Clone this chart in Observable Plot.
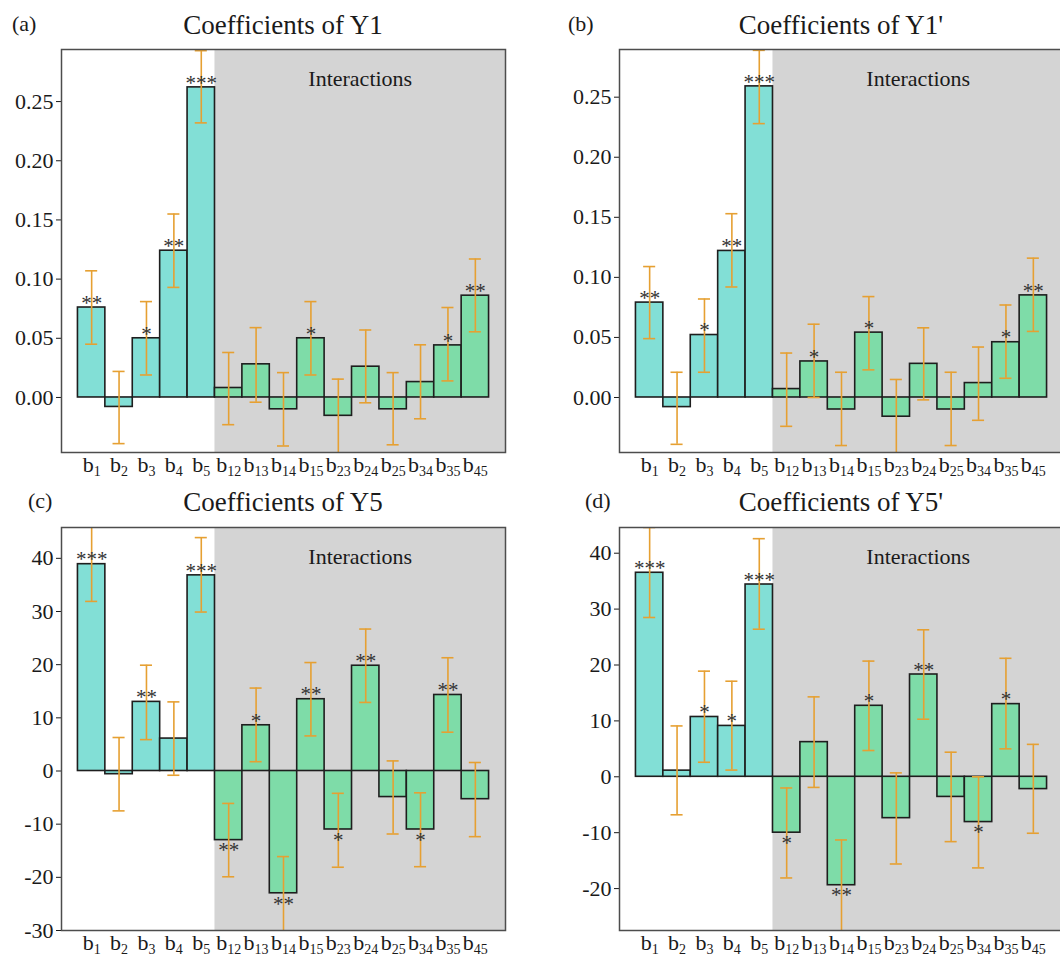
<!DOCTYPE html>
<html>
<head>
<meta charset="utf-8">
<script src="https://cdn.jsdelivr.net/npm/d3@7"></script>
<script src="https://cdn.jsdelivr.net/npm/@observablehq/plot@0.6"></script>
<style>
  html, body { margin: 0; padding: 0; background: #fff; overflow: hidden; }
  #wrap { position: relative; width: 1060px; height: 956px; overflow: hidden; background: #fff; }
  #wrap > svg { position: absolute; }
  #wrap text { font-family: "Liberation Serif", "DejaVu Serif", serif; }
</style>
</head>
<body>
<div id="wrap"></div>
<script>
// ---------- data ----------
const terms = ["b1","b2","b3","b4","b5","b12","b13","b14","b15","b23","b24","b25","b34","b35","b45"];

const y1Value = [0.076, -0.008, 0.050, 0.124, 0.262, 0.008, 0.028, -0.010, 0.050, -0.0155, 0.026, -0.010, 0.013, 0.044, 0.086];
const y1Low   = [0.045, -0.039, 0.019, 0.093, 0.232, -0.023, -0.004, -0.041, 0.019, -0.047, -0.0045, -0.040, -0.018, 0.014, 0.0555];
const y1High  = [0.107, 0.022, 0.081, 0.155, 0.293, 0.038, 0.059, 0.021, 0.081, 0.0155, 0.057, 0.021, 0.0445, 0.076, 0.117];
const y1Sig   = ["**","","*","**","***","","","","*","","","","","*","**"];

const y1pValue = [0.079, -0.008, 0.052, 0.122, 0.259, 0.007, 0.030, -0.010, 0.054, -0.016, 0.028, -0.010, 0.012, 0.046, 0.085];
const y1pLow   = [0.049, -0.039, 0.021, 0.092, 0.228, -0.024, 0.000, -0.040, 0.023, -0.046, -0.002, -0.040, -0.019, 0.016, 0.055];
const y1pHigh  = [0.109, 0.021, 0.082, 0.153, 0.289, 0.037, 0.061, 0.021, 0.084, 0.015, 0.058, 0.021, 0.042, 0.077, 0.116];
const y1pSig   = ["**","","*","**","***","","*","","*","","","","","*","**"];

const y5Value = [38.9, -0.6, 13.0, 6.1, 36.8, -13.0, 8.6, -23.0, 13.5, -11.0, 19.8, -4.9, -11.0, 14.3, -5.3];
const y5Low   = [31.9, -7.5, 5.9, -0.8, 29.9, -19.9, 1.75, -30.1, 6.6, -18.1, 12.9, -11.85, -18.0, 7.3, -12.35];
const y5High  = [45.9, 6.3, 19.9, 13.0, 43.9, -6.1, 15.6, -16.1, 20.4, -4.2, 26.7, 1.9, -4.1, 21.3, 1.6];
const y5Sig   = ["***","","**","","***","**","*","**","**","*","**","","*","**",""];

const y5pValue = [36.5, 1.1, 10.7, 9.1, 34.4, -10.0, 6.2, -19.4, 12.7, -7.4, 18.3, -3.6, -8.1, 13.0, -2.2];
const y5pLow   = [28.5, -6.8, 2.6, 1.2, 26.4, -18.1, -1.9, -27.6, 4.7, -15.6, 10.3, -11.6, -16.3, 5.0, -10.1];
const y5pHigh  = [44.6, 9.1, 18.9, 17.1, 42.6, -2.0, 14.3, -11.3, 20.7, 0.7, 26.3, 4.4, 0.0, 21.2, 5.8];
const y5pSig   = ["***","","*","*","***","*","","**","*","","**","","*","*",""];

const smallTicks = [0, 0.05, 0.10, 0.15, 0.20, 0.25];
const y5Ticks = [-30, -20, -10, 0, 10, 20, 30, 40];
const y5pTicks = [-20, -10, 0, 10, 20, 30, 40];

const panels = [
  {tag: "(a)", title: "Coefficients of Y1",  values: y1Value,  low: y1Low,  high: y1High,  sig: y1Sig,
   domain: [-0.0465, 0.294], ticks: smallTicks, fmt: d3.format(".2f"),
   left: 0, top: 40, tagX: 12, tagY: 31, titleX: 283, titleY: 34},
  {tag: "(b)", title: "Coefficients of Y1'", values: y1pValue, low: y1pLow, high: y1pHigh, sig: y1pSig,
   domain: [-0.0458, 0.2897], ticks: smallTicks, fmt: d3.format(".2f"),
   left: 558, top: 40, tagX: 568, tagY: 31, titleX: 841, titleY: 34},
  {tag: "(c)", title: "Coefficients of Y5",  values: y5Value,  low: y5Low,  high: y5High,  sig: y5Sig,
   domain: [-30, 45.8], ticks: y5Ticks, fmt: d => String(d),
   left: 0, top: 518, tagX: 28, tagY: 508, titleX: 283, titleY: 511},
  {tag: "(d)", title: "Coefficients of Y5'", values: y5pValue, low: y5pLow, high: y5pHigh, sig: y5pSig,
   domain: [-27.5, 44.6], ticks: y5pTicks, fmt: d => String(d),
   left: 558, top: 518, tagX: 585, tagY: 508, titleX: 841, titleY: 511}
];

// ---------- style ----------
const FONT = "Liberation Serif, DejaVu Serif, serif";
const MAIN_FILL = "#82dfd6";
const INTER_FILL = "#7edca8";
const BG_FILL = "#d4d4d4";
const ERR = "#e6a032";
const wrap = document.getElementById("wrap");

function makePanel(cfg) {
  const data = terms.map((name, i) => ({
    i, name, value: cfg.values[i], low: cfg.low[i], high: cfg.high[i], sig: cfg.sig[i],
    inter: name.length > 2
  }));
  const xDomain = [-0.5 - 0.6, terms.length - 0.5 + 0.6];
  const firstInter = data.find(d => d.inter).i;
  const bgX1 = firstInter - 0.5;
  const sigPos = data.filter(d => d.sig && d.value >= 0);
  const sigNeg = data.filter(d => d.sig && d.value < 0);

  const plot = Plot.plot({
    width: 530, height: 434,
    marginLeft: 61, marginRight: 25, marginTop: 9, marginBottom: 22,
    style: {fontFamily: FONT, fontSize: "22px", color: "#1a1a1a", background: "transparent", overflow: "visible"},
    x: {domain: xDomain, ticks: data.map(d => d.i), tickFormat: i => terms[i], tickSize: 0, tickPadding: 4, label: null},
    y: {domain: cfg.domain, ticks: cfg.ticks, tickFormat: cfg.fmt, tickSize: 5, tickPadding: 3, label: null},
    marks: [
      Plot.rect([0], {x1: bgX1, x2: xDomain[1], y1: cfg.domain[0], y2: cfg.domain[1], fill: BG_FILL}),
      Plot.text(["Interactions"], {x: (bgX1 + xDomain[1]) / 2, text: d => d, frameAnchor: "top", lineAnchor: "bottom", dy: 36, fontSize: 22, fill: "#1a1a1a"}),
      Plot.rect(data, {x1: d => d.i - 0.5, x2: d => d.i + 0.5, y1: 0, y2: "value",
        fill: d => d.inter ? INTER_FILL : MAIN_FILL, stroke: "#1e1e1e", strokeWidth: 1.6}),
      Plot.ruleX(data, {x: "i", y1: "low", y2: "high", stroke: ERR, strokeWidth: 1.6, clip: true}),
      Plot.ruleY(data, {x1: d => d.i - 0.22, x2: d => d.i + 0.22, y: "low", stroke: ERR, strokeWidth: 1.6, clip: true}),
      Plot.ruleY(data, {x1: d => d.i - 0.22, x2: d => d.i + 0.22, y: "high", stroke: ERR, strokeWidth: 1.6, clip: true}),
      Plot.text(sigPos, {x: "i", y: "value", text: "sig", lineAnchor: "middle", dy: -4.5, fontSize: 21, fill: "#333"}),
      Plot.text(sigNeg, {x: "i", y: "value", text: "sig", lineAnchor: "middle", dy: 10.5, fontSize: 21, fill: "#333"}),
      Plot.frame({stroke: "#4d4d4d", strokeWidth: 1.5})
    ]
  });

  // subscripts for term labels
  plot.querySelectorAll("text").forEach(t => {
    const m = /^b(\d+)$/.exec(t.textContent);
    if (m && t.children.length <= 1) {
      t.textContent = "b";
      const ts = document.createElementNS("http://www.w3.org/2000/svg", "tspan");
      ts.setAttribute("font-size", "14px");
      ts.setAttribute("dy", "0.3em");
      ts.textContent = m[1];
      t.appendChild(ts);
    }
  });

  plot.style.left = cfg.left + "px";
  plot.style.top = cfg.top + "px";
  wrap.appendChild(plot);
}

panels.forEach(makePanel);

// titles and tags
const overlay = d3.select(wrap).append("svg")
  .attr("width", 1060).attr("height", 956)
  .style("left", "0px").style("top", "0px")
  .style("font-family", FONT).style("pointer-events", "none");
panels.forEach(p => {
  overlay.append("text").attr("x", p.titleX).attr("y", p.titleY)
    .attr("text-anchor", "middle").attr("font-size", 27).attr("fill", "#1a1a1a").text(p.title);
  overlay.append("text").attr("x", p.tagX).attr("y", p.tagY)
    .attr("font-size", 22).attr("fill", "#1a1a1a").text(p.tag);
});
</script>
</body>
</html>
